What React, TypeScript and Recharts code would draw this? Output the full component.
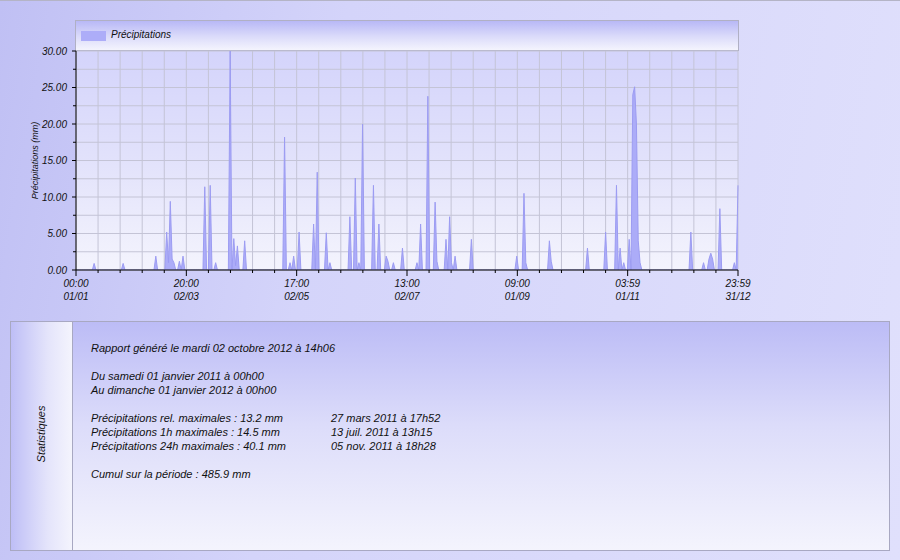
import { AreaChart, Area, XAxis, YAxis, CartesianGrid, Label } from "recharts";

// Rainy days of 2011 (day index from 1 Jan) and the amount, in mm
const rainDays = [
  10, 26, 44, 50, 51, 52, 53, 54, 57, 59, 71, 74, 77, 85, 87, 88, 89, 93,
  115, 118, 120, 123, 131, 133, 138, 140, 151, 154, 156, 158, 164, 167, 171,
  172, 175, 180, 188, 190, 194, 198, 199, 204, 206, 207, 209, 218, 243, 247,
  248, 261, 262, 282, 292, 298, 300, 302, 305, 307, 308, 309, 310, 311, 339,
  346, 349, 350, 351, 355, 363, 365,
];
const rainMm = [
  0.9, 0.9, 1.9, 5.2, 1.0, 9.4, 1.5, 1.0, 1.2, 1.9, 11.4, 11.6, 1.0, 30.0, 4.3, 0.6, 3.3, 4.0,
  18.2, 1.0, 1.9, 5.2, 6.3, 13.4, 5.1, 1.0, 7.3, 12.6, 1.0, 20.0, 11.6, 6.3, 1.9,
  1.2, 1.0, 3.0, 1.0, 6.3, 23.8, 9.3, 1.2, 4.2, 7.3, 1.0, 1.9, 4.2, 1.9, 10.5,
  1.0, 4.0, 1.2, 3.0, 5.2, 11.6, 3.0, 1.0, 4.2, 24.0, 25.1, 20.0, 4.0, 1.0, 5.2,
  1.0, 1.5, 2.3, 1.5, 8.4, 1.0, 11.6,
];

const yTicks = [0, 2.5, 5, 7.5, 10, 12.5, 15, 17.5, 20, 22.5, 25, 27.5, 30];
const xTickLabels = [
  ["00:00", "01/01"],
  ["20:00", "02/03"],
  ["17:00", "02/05"],
  ["13:00", "02/07"],
  ["09:00", "01/09"],
  ["03:59", "01/11"],
  ["23:59", "31/12"],
];

const statLines = [
  "Rapport généré le mardi 02 octobre 2012 à 14h06",
  "",
  "Du samedi 01 janvier 2011 à 00h00",
  "Au dimanche 01 janvier 2012 à 00h00",
  "",
  "Précipitations rel. maximales : 13.2 mm",
  "Précipitations 1h maximales : 14.5 mm",
  "Précipitations 24h maximales : 40.1 mm",
  "",
  "Cumul sur la période : 485.9 mm",
];
const statDates = ["", "", "", "", "", "27 mars 2011 à 17h52", "13 juil. 2011 à 13h15", "05 nov. 2011 à 18h28", "", ""];

const DAYS = 365;
const data = Array.from({ length: DAYS + 1 }, (_, day) => ({ day, mm: 0 }));
rainDays.forEach((d, i) => {
  data[d].mm = rainMm[i];
});
const xTicks = Array.from({ length: 31 }, (_, i) => (i * DAYS) / 30);

const FONT = '"Liberation Sans", Arial, sans-serif';

const XTick = (props: any) => {
  const { x, y, index } = props;
  const major = index % 5 === 0;
  const label = major ? xTickLabels[index / 5] : null;
  return (
    <g>
      <line x1={x} x2={x} y1={y} y2={y + (major ? 6 : 3)} stroke="#000" />
      {label && (
        <text x={x} textAnchor="middle" fontSize={10} fontStyle="italic" fill="#111" fontFamily={FONT}>
          <tspan x={x} y={y + 17}>{label[0]}</tspan>
          <tspan x={x} y={y + 30}>{label[1]}</tspan>
        </text>
      )}
    </g>
  );
};

const YTick = (props: any) => {
  const { x, y, payload } = props;
  const major = payload.value % 5 === 0;
  return (
    <g>
      <line x1={x - (major ? 4 : 3)} x2={x} y1={y} y2={y} stroke="#000" />
      {major && (
        <text x={x - 9} y={y} dy="0.35em" textAnchor="end" fontSize={10} fontStyle="italic" fill="#111" fontFamily={FONT}>
          {payload.value.toFixed(2)}
        </text>
      )}
    </g>
  );
};

const YTitle = (props: any) => {
  const vb = props.viewBox || {};
  const cy = (vb.y ?? 50) + (vb.height ?? 219) / 2;
  const cx = 35;
  return (
    <text
      x={cx}
      y={cy}
      transform={`rotate(-90, ${cx}, ${cy})`}
      textAnchor="middle"
      dominantBaseline="central"
      fontSize={9}
      fontStyle="italic"
      fill="#111"
      fontFamily={FONT}
    >
      Précipitations (mm)
    </text>
  );
};

export default function App() {
  return (
    <div
      style={{
        position: "absolute",
        left: 0,
        top: 0,
        width: 900,
        height: 560,
        overflow: "hidden",
        boxSizing: "border-box",
        borderTop: "1px solid #b4b4c6",
        background: "linear-gradient(100deg, #c0c0f4 0%, #d4d4fa 35%, #e0e0fc 100%)",
        fontFamily: FONT,
      }}
    >
      {/* plot background */}
      <div
        style={{
          position: "absolute",
          left: 76,
          top: 50,
          width: 662,
          height: 219,
          background: "linear-gradient(180deg, #d4d4fb 0%, #e2e2fb 50%, #f4f4fd 100%)",
        }}
      />
      {/* legend box */}
      <div
        style={{
          position: "absolute",
          left: 75,
          top: 19,
          width: 664,
          height: 31,
          boxSizing: "border-box",
          border: "1px solid #b0b0c4",
          background: "linear-gradient(180deg, #b8b8f6 0%, #dcdcfa 55%, #f4f4fd 100%)",
        }}
      >
        <div style={{ position: "absolute", left: 5, top: 10, width: 25, height: 10, background: "#adadf8" }} />
        <div style={{ position: "absolute", left: 35, top: 8, fontSize: 10, fontStyle: "italic", color: "#111" }}>
          Précipitations
        </div>
      </div>

      <div style={{ position: "absolute", left: 0, top: 0 }}>
        <AreaChart width={900} height={310} data={data} margin={{ top: 50, right: 162, bottom: 6, left: 36 }}>
          <CartesianGrid stroke="#c4c4d6" strokeWidth={1} horizontalValues={yTicks} verticalValues={xTicks} />
          <XAxis
            dataKey="day"
            type="number"
            domain={[0, DAYS]}
            ticks={xTicks}
            interval={0}
            height={35}
            tickSize={0}
            tickMargin={0}
            tickLine={false}
            tick={<XTick />}
            axisLine={{ stroke: "#000" }}
          />
          <YAxis
            type="number"
            domain={[0, 30]}
            ticks={yTicks}
            interval={0}
            allowDataOverflow
            width={40}
            tickSize={0}
            tickMargin={0}
            tickLine={false}
            tick={<YTick />}
            axisLine={{ stroke: "#000" }}
          >
            <Label content={<YTitle />} />
          </YAxis>
          <Area
            type="linear"
            dataKey="mm"
            stroke="#9c9cf2"
            strokeWidth={1}
            fill="#acacf8"
            fillOpacity={1}
            dot={false}
            activeDot={false}
            isAnimationActive={false}
          />
        </AreaChart>
      </div>

      {/* statistics panel */}
      <div
        style={{
          position: "absolute",
          left: 10,
          top: 320,
          width: 880,
          height: 230,
          boxSizing: "border-box",
          border: "1px solid #a8a8c2",
          display: "flex",
        }}
      >
        <div
          style={{
            position: "relative",
            width: 61,
            borderRight: "1px solid #a8a8c2",
            background: "linear-gradient(90deg, #bebef6 0%, #e4e4fb 60%, #f4f4fd 100%)",
          }}
        >
          <div
            style={{
              position: "absolute",
              left: 30,
              top: 112,
              transform: "translate(-50%, -50%) rotate(-90deg)",
              fontSize: 11,
              fontStyle: "italic",
              color: "#111",
              whiteSpace: "nowrap",
            }}
          >
            Statistiques
          </div>
        </div>
        <div
          style={{
            position: "relative",
            flex: 1,
            background: "linear-gradient(180deg, #bcbcf6 0%, #dcdcfa 45%, #f4f4fd 100%)",
          }}
        >
          <div style={{ position: "absolute", left: 18, top: 19, fontSize: 11, fontStyle: "italic", color: "#111", lineHeight: "14px" }}>
            {statLines.map((line, i) => (
              <div key={i} style={{ height: 14, whiteSpace: "nowrap", position: "relative" }}>
                {line}
                {statDates[i] && <span style={{ position: "absolute", left: 240 }}>{statDates[i]}</span>}
              </div>
            ))}
          </div>
        </div>
      </div>
    </div>
  );
}
